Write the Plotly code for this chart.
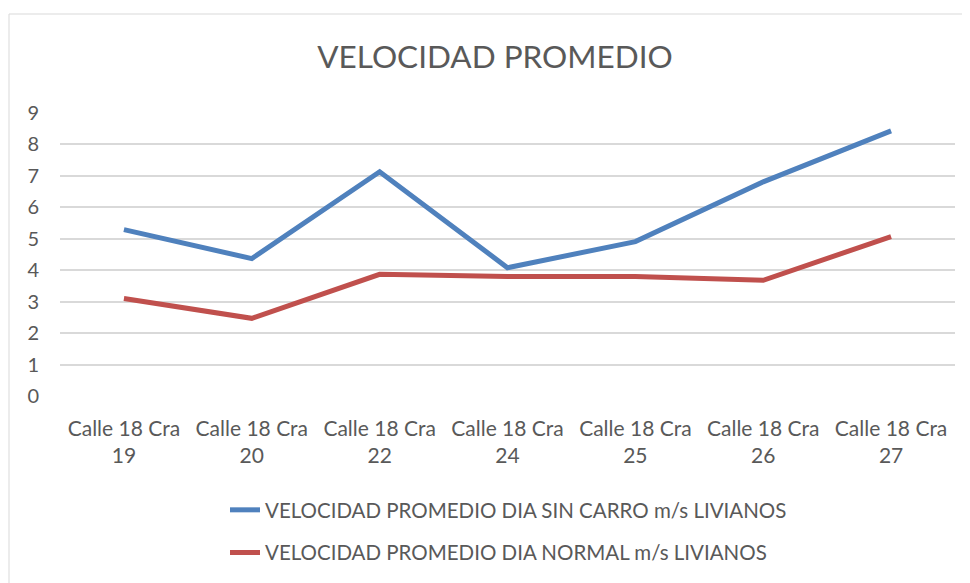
import plotly.graph_objects as go

categories = ["Calle 18 Cra<br>19", "Calle 18 Cra<br>20", "Calle 18 Cra<br>22", "Calle 18 Cra<br>24",
              "Calle 18 Cra<br>25", "Calle 18 Cra<br>26", "Calle 18 Cra<br>27"]
sin_carro = [5.29, 4.37, 7.13, 4.08, 4.91, 6.81, 8.43]
normal = [3.10, 2.47, 3.87, 3.80, 3.80, 3.68, 5.07]
name_sin = "VELOCIDAD PROMEDIO DIA SIN CARRO m/s LIVIANOS"
name_normal = "VELOCIDAD PROMEDIO DIA NORMAL m/s LIVIANOS"
title = "VELOCIDAD PROMEDIO"

OFF = 8  # page body margin
EXTRA = 20  # extra room below the visible window so the legend does not push margins
W, H = 970 - OFF, 583 - OFF + EXTRA
L, R, T, B = 60 - OFF, 970 - 955, 113 - OFF, 583 - 396 + EXTRA
pw = W - L - R
ph = H - T - B


def py(y):  # screen y -> paper y
    return (396 - y) / ph


def px(x):  # screen x -> paper x
    return (x - 60) / pw


fig = go.Figure()
fig.add_trace(go.Scatter(x=categories, y=sin_carro, mode="lines", name=name_sin,
                         line=dict(color="#4F81BD", width=5), legendgroup="a"))
fig.add_trace(go.Scatter(x=categories, y=normal, mode="lines", name=name_normal,
                         line=dict(color="#C0504D", width=5), legendgroup="b"))

font = "Lato, 'Open Sans', sans-serif"
fig.update_layout(
    width=W, height=H,
    margin=dict(l=L, r=R, t=T, b=B),
    paper_bgcolor="white", plot_bgcolor="white",
    font=dict(family=font, color="#595959", size=20),
    title=dict(text=title, x=px(495), xanchor="center", xref="paper",
               y=1 - (57 - OFF) / H, yanchor="middle",
               font=dict(size=31.5, color="#595959", family=font)),
    xaxis=dict(showgrid=False, showline=False, zeroline=False, ticks="",
               tickfont=dict(size=21), range=[-0.5, 6.5], ticklabelstandoff=18),
    yaxis=dict(range=[0, 9], dtick=1, showgrid=True, gridcolor="#D9D9D9", gridwidth=1.5,
               zeroline=False, showline=False, ticks="", tickfont=dict(size=20),
               ticklabelstandoff=20),
    legend=dict(orientation="v", x=px(225), xanchor="left",
                y=py(490), yanchor="top",
                font=dict(size=20.5, color="#595959"), tracegroupgap=13,
                bgcolor="rgba(0,0,0,0)"),
    showlegend=True,
)
fig.add_shape(type="rect", xref="paper", yref="paper",
              x0=px(9), x1=px(968),
              y0=py(620), y1=py(14),
              line=dict(color="#D9D9D9", width=1), layer="below")

fig.write_html("out.html")
